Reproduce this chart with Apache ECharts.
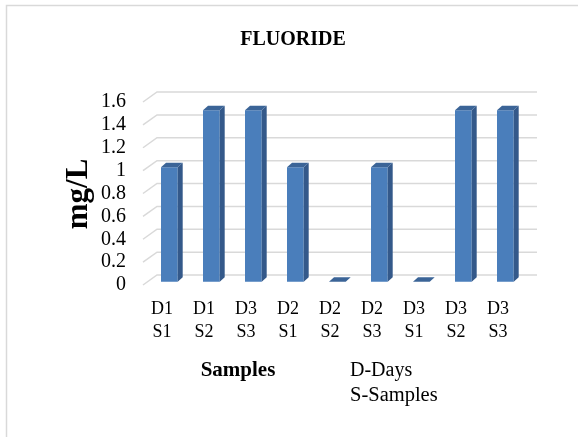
<!DOCTYPE html>
<html>
<head>
<meta charset="utf-8">
<script src="https://cdn.jsdelivr.net/npm/echarts@6/dist/echarts.min.js"></script>
<style>
html,body{margin:0;padding:0;background:#fff;}
#chart{width:578px;height:437px;}
</style>
</head>
<body>
<div id="chart"></div>
<script>
const categories = ['D1\nS1', 'D1\nS2', 'D3\nS3', 'D2\nS1', 'D2\nS2', 'D2\nS3', 'D3\nS1', 'D3\nS2', 'D3\nS3'];
const fluoride = [1, 1.5, 1.5, 1, 0, 1, 0, 1.5, 1.5];
const yTicks = [0, 0.2, 0.4, 0.6, 0.8, 1, 1.2, 1.4, 1.6];
const chartTitle = 'FLUORIDE';
const yName = 'mg/L';
const xName = 'Samples';
const noteLines = ['D-Days', 'S-Samples'];

const FONT = '"Liberation Serif", "Times New Roman", serif';
const chart = echarts.init(document.getElementById('chart'), null, {renderer: 'canvas'});

const DX = 5, DY = -4.5;       // bar depth
const BX = -1, BW = 16.7;      // bar front offset from category centre, width
const BOFF = -3.3;             // bar front face lift from front plane

const option = {
  animation: false,
  backgroundColor: '#ffffff',
  grid: {left: 141, right: 59, top: 102, bottom: 152},
  xAxis: {
    type: 'category',
    data: categories,
    axisLine: {show: false},
    axisTick: {show: false},
    axisLabel: {
      interval: 0, margin: 13,
      fontFamily: FONT, fontSize: 18, color: '#000', lineHeight: 23
    }
  },
  yAxis: {
    type: 'value',
    min: 0, max: 1.6, interval: 0.2,
    axisLine: {show: false},
    axisTick: {show: false},
    splitLine: {show: false},
    axisLabel: {margin: 15, fontFamily: FONT, fontSize: 20, color: '#000'}
  },
  graphic: [
    {type: 'rect', shape: {x: 6.5, y: 5.5, width: 700, height: 600},
     style: {fill: 'none', stroke: '#d9d9d9', lineWidth: 1.5}, z: -10, silent: true},
    {type: 'text', x: 293, y: 40,
     style: {text: chartTitle, font: 'bold 20px ' + FONT, fill: '#000', align: 'center', verticalAlign: 'middle'}},
    {type: 'text', x: 79, y: 194, rotation: Math.PI / 2,
     style: {text: yName, font: 'bold 31px ' + FONT, fill: '#000', align: 'center', verticalAlign: 'middle'}},
    {type: 'text', x: 238, y: 371,
     style: {text: xName, font: 'bold 21px ' + FONT, fill: '#000', align: 'center', verticalAlign: 'middle'}},
    {type: 'text', x: 350, y: 371,
     style: {text: noteLines[0], font: '20px ' + FONT, fill: '#000', align: 'left', verticalAlign: 'middle'}},
    {type: 'text', x: 350, y: 396,
     style: {text: noteLines[1], font: '20.5px ' + FONT, fill: '#000', align: 'left', verticalAlign: 'middle'}}
  ],
  series: [
    {
      type: 'custom',
      silent: true,
      clip: false,
      z: 1,
      data: yTicks.map(v => [0, v]),
      renderItem: function (params, api) {
        const cs = params.coordSys;
        const y = api.coord([0, api.value(1)])[1];
        const x0 = cs.x + 2;
        const x1 = x0 + 14;
        const x2 = cs.x + cs.width + 18;
        return {
          type: 'polyline',
          shape: {points: [[x0, y], [x1, y - 10], [x2, y - 10]]},
          style: {stroke: '#d9d9d9', lineWidth: 1.5, fill: 'none'}
        };
      }
    },
    {
      type: 'custom',
      silent: true,
      clip: false,
      z: 2,
      data: fluoride.map((v, i) => [i, v]),
      renderItem: function (params, api) {
        const idx = api.value(0);
        const top = api.coord([idx, api.value(1)]);
        const base = api.coord([idx, 0]);
        const L = top[0] + BX, R = L + BW;
        const T = top[1] + BOFF, B = base[1] + BOFF;
        const children = [];
        if (B - T > 0.5) {
          children.push({type: 'rect', shape: {x: L, y: T, width: BW, height: B - T},
            style: {fill: '#4a7ebb'}});
          children.push({type: 'polygon', shape: {points: [[R, T], [R + DX, T + DY], [R + DX, B + DY], [R, B]]},
            style: {fill: '#34598a'}});
        }
        children.push({type: 'polygon', shape: {points: [[L, T], [L + DX, T + DY], [R + DX, T + DY], [R, T]]},
          style: {fill: '#3b6497'}});
        return {type: 'group', children: children};
      }
    }
  ]
};
chart.setOption(option);
</script>
</body>
</html>
